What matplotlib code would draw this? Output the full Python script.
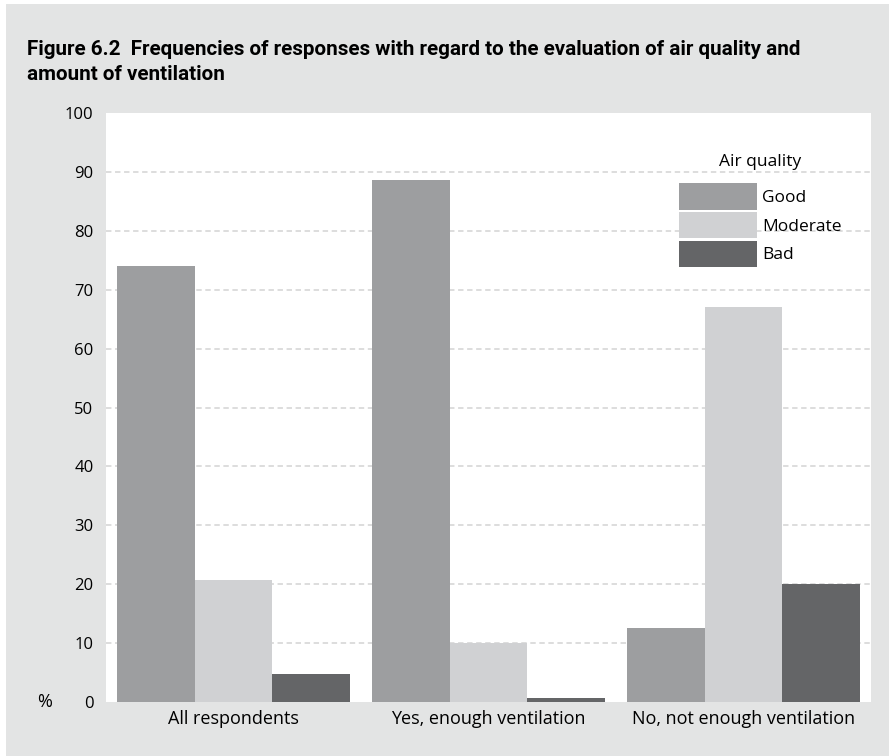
import numpy as np
import matplotlib
matplotlib.use('Agg')
import matplotlib.pyplot as plt
from matplotlib.patches import Rectangle

# survey results, % of respondents per air quality rating
groups = ['All respondents', 'Yes, enough ventilation', 'No, not enough ventilation']
ratings = ['Good', 'Moderate', 'Bad']
good = [74, 88.7, 12.6]
moderate = [20.7, 10, 67.1]
bad = [4.8, 0.7, 20]
yticks = [0, 10, 20, 30, 40, 50, 60, 70, 80, 90, 100]
title_lines = ['Figure 6.2  Frequencies of responses with regard to the evaluation of air quality and',
               'amount of ventilation']

colors = ['#9d9ea0', '#d0d1d3', '#646567']
panel = '#e3e4e4'
font = ['Open Sans', 'DejaVu Sans']

fig = plt.figure(figsize=(8.89, 7.56), dpi=100, facecolor='white')
# grey panel behind everything
fig.patches.append(Rectangle((6 / 889, 0), 1, 1 - 4 / 756, transform=fig.transFigure,
                             facecolor=panel, edgecolor='none', zorder=-5))

ax = fig.add_axes([106 / 889, 54 / 756, 765 / 889, 589 / 756])
ax.set_facecolor('white')

x = np.arange(len(groups))
w = 0.305
for i, (vals, lab) in enumerate(zip([good, moderate, bad], ratings)):
    ax.bar(x + (i - 1) * w, vals, width=w, color=colors[i], label=lab, zorder=3, linewidth=0)

ax.set_xlim(-0.5, 2.5)
ax.set_ylim(0, 100)
ax.set_yticks(yticks)
ax.set_yticklabels([str(t) for t in yticks], fontfamily=font, fontsize=12)
ax.set_xticks(x)
ax.set_xticklabels(groups, fontfamily=font, fontsize=13)
ax.tick_params(axis='y', length=0, pad=9)
ax.tick_params(axis='x', length=0, pad=6)
for s in ax.spines.values():
    s.set_visible(False)
ax.yaxis.grid(True, color='#dadada', linestyle=(0, (3, 2)), linewidth=1.3, zorder=0)
ax.set_axisbelow(True)
# no dashed line along the bottom and top edges
gl = ax.get_ygridlines()
gl[0].set_visible(False)
gl[-1].set_visible(False)

fig.text(37 / 889, 1 - 702 / 756, '%', fontfamily=font, fontsize=13, va='center', ha='left')

leg = ax.legend(title='Air quality', loc='upper left', bbox_to_anchor=(0.749, 0.93),
                frameon=False, prop={'family': font, 'size': 12.5},
                handlelength=4.5, handleheight=2.0, labelspacing=0.12,
                handletextpad=0.3, borderpad=0, borderaxespad=0)
leg.get_title().set_fontfamily(font)
leg.get_title().set_fontsize(12.5)
leg._legend_box.sep = 9

# two-line bold heading, sized so the first line spans about 775 px
heads = []
for line, ybase in zip(title_lines, [55, 80]):
    heads.append(fig.text(27 / 889, 1 - ybase / 756, line, fontfamily=['Roboto', 'DejaVu Sans'],
                          fontweight='bold', fontsize=17, va='baseline', ha='left'))
renderer = fig.canvas.get_renderer()
width = heads[0].get_window_extent(renderer).width
size = 17 * 775 / width
for t in heads:
    t.set_fontsize(size)

fig.savefig('out.png', dpi=100, facecolor='white')
